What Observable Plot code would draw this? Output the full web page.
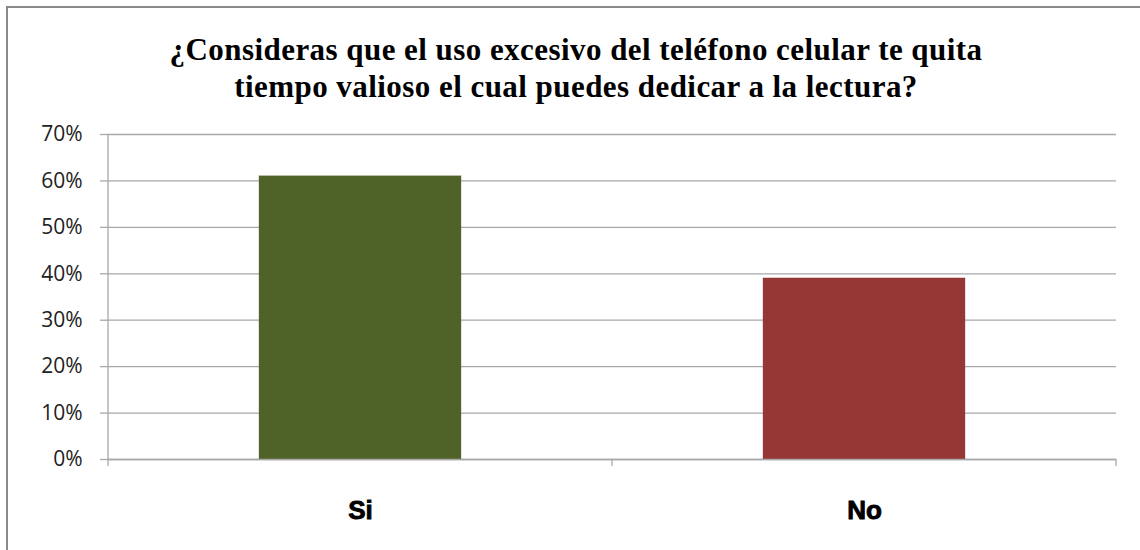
<!DOCTYPE html>
<html>
<head>
<meta charset="utf-8">
<script src="https://cdn.jsdelivr.net/npm/d3@7"></script>
<script src="https://cdn.jsdelivr.net/npm/@observablehq/plot@0.6"></script>
<style>
  html, body { margin: 0; padding: 0; background: #fff; }
  #wrap { position: relative; width: 1140px; height: 550px; overflow: hidden; }
  #frame { position: absolute; left: 6px; top: 6px; width: 1200px; height: 600px;
           border-left: 2px solid #8a8a8a; border-top: 2px solid #8a8a8a; box-sizing: border-box; }
  #title { position: absolute; left: 0; top: 31px; width: 1152px; text-align: center;
           font-family: "Liberation Serif", "Times New Roman", serif; font-weight: bold;
           font-size: 31px; line-height: 37px; letter-spacing: 0.45px; color: #000; }
  #chart { position: absolute; left: 0; top: 0; }
</style>
</head>
<body>
<div id="wrap">
  <div id="frame"></div>
  <div id="chart"></div>
  <div id="title">¿Consideras que el uso excesivo del teléfono celular te quita<br>tiempo valioso el cual puedes dedicar a la lectura?</div>
</div>
<script>
const categories = ["Si", "No"];
const values = [0.61, 0.39];
const yTicks = [0, 0.1, 0.2, 0.3, 0.4, 0.5, 0.6, 0.7];
const barColors = ["#4F6228", "#953735"];

const data = categories.map((c, i) => ({ category: c, value: values[i] }));
const gridColor = "#a8a8a8";

const plot = Plot.plot({
  width: 1140,
  height: 550,
  marginLeft: 108,
  marginRight: 24,
  marginTop: 134,
  marginBottom: 91,
  style: { background: "transparent", color: "#222" },
  x: { domain: categories, paddingInner: 0.6, paddingOuter: 0.3, label: null },
  y: { domain: [0, 0.7], label: null },
  color: { domain: categories, range: barColors },
  marks: [
    Plot.gridY(yTicks, { stroke: gridColor, strokeOpacity: 1, strokeWidth: 1.3 }),
    Plot.axisY(yTicks, {
      tickFormat: d3.format(".0%"), tickSize: 8, tickPadding: 18,
      stroke: gridColor, strokeOpacity: 1, strokeWidth: 1.3,
      fontSize: 21, fontFamily: "Open Sans", fill: "#222", label: null
    }),
    Plot.barY(data, { x: "category", y: "value", fill: "category", stroke: "category", strokeOpacity: 0.35 }),
    Plot.ruleY([0], { stroke: gridColor, strokeWidth: 1.3 }),
    Plot.axisX({
      tickSize: 0, tickPadding: 41, fontSize: 26, fontWeight: 900,
      fontFamily: "Liberation Sans", fill: "#000", label: null
    })
  ]
});

document.getElementById("chart").appendChild(plot);

// make the category labels heavier, like the reference
d3.select(plot).selectAll('g[aria-label="x-axis tick label"] text')
  .attr("stroke", "#000").attr("stroke-width", 0.9);

// vertical axis line and category boundary ticks, positioned via the plot's scales
const xs = plot.scale("x"), ys = plot.scale("y");
const [r0, r1] = xs.range;
const boundaries = [0, 1, 2].map(k => r0 + (r1 - r0) * k / 2);
const y0 = ys.apply(0), yTop = ys.apply(0.7);
const g = d3.select(plot).append("g").attr("stroke", gridColor).attr("stroke-width", 1.3);
g.append("line").attr("x1", r0).attr("x2", r0).attr("y1", yTop).attr("y2", y0 + 7);
boundaries.slice(1).forEach(b => {
  g.append("line").attr("x1", b).attr("x2", b).attr("y1", y0).attr("y2", y0 + 7);
});
</script>
</body>
</html>
